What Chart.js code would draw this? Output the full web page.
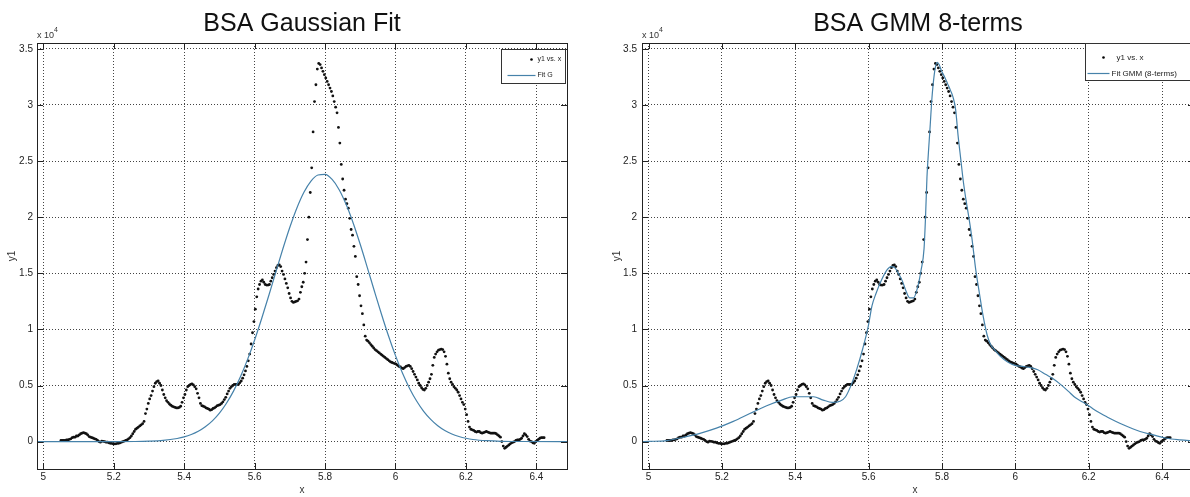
<!DOCTYPE html>
<html>
<head>
<meta charset="utf-8">
<title>BSA fits</title>
<script src="https://cdn.jsdelivr.net/npm/chart.js@4/dist/chart.umd.min.js"></script>
<style>
  html, body { margin: 0; padding: 0; background: #fff; }
  #wrap { position: relative; width: 1190px; height: 497px; overflow: hidden; background: #fff; }
  canvas { position: absolute; top: 0; }
  #left { left: 0; }
  #right { left: 600px; }
</style>
</head>
<body>
<div id="wrap">
  <canvas id="left" width="600" height="497"></canvas>
  <canvas id="right" width="600" height="497"></canvas>
</div>
<script>
/* ===========================================
   BSA spectrum - measured points and two fits
   (values are in units of 10^4)
   =========================================== */

// measured trace: one sample every 0.004 from x = 5.05
const X_START = 5.05;
const X_STEP = 0.004;
const y1 = [
  0.01, 0.01, 0.01, 0.01, 0.015, 0.015, 0.02, 0.025, 0.035, 0.04, 0.04, 0.05, 0.05, 0.06, 0.07, 0.075, 0.08, 0.075, 0.07, 0.06, 0.045, 0.04, 0.035, 0.03, 0.025,
  0.02, 0.01, 0.0, -0.005, 0.005, 0.003, 0.0, -0.005, -0.005, -0.01, -0.015, -0.015, -0.02, -0.02, -0.02, -0.015, -0.015, -0.01, -0.005, 0.0, 0.005, 0.01, 0.015, 0.025, 0.035,
  0.05, 0.07, 0.09, 0.11, 0.12, 0.13, 0.14, 0.15, 0.16, 0.18, 0.25, 0.29, 0.34, 0.38, 0.41, 0.45, 0.49, 0.52, 0.535, 0.54, 0.52, 0.50, 0.46, 0.42, 0.39,
  0.365, 0.35, 0.335, 0.325, 0.315, 0.31, 0.305, 0.30, 0.30, 0.305, 0.315, 0.35, 0.39, 0.42, 0.46, 0.49, 0.50, 0.51, 0.515, 0.505, 0.49, 0.47, 0.43, 0.39, 0.34,
  0.32, 0.315, 0.31, 0.30, 0.295, 0.29, 0.28, 0.285, 0.295, 0.30, 0.31, 0.32, 0.325, 0.33, 0.34, 0.355, 0.375, 0.395, 0.425, 0.45, 0.475, 0.49, 0.50, 0.51, 0.51,
  0.51, 0.51, 0.525, 0.54, 0.565, 0.595, 0.63, 0.67, 0.72, 0.78, 0.87, 0.97, 1.07, 1.18, 1.29, 1.36, 1.40, 1.43, 1.44, 1.42, 1.40, 1.395, 1.395, 1.40, 1.43,
  1.46, 1.49, 1.52, 1.55, 1.57, 1.575, 1.56, 1.52, 1.49, 1.45, 1.41, 1.37, 1.32, 1.28, 1.25, 1.24, 1.245, 1.25, 1.255, 1.27, 1.33, 1.38, 1.42, 1.50, 1.60,
  1.80, 2.00, 2.22, 2.44, 2.76, 3.03, 3.18, 3.32, 3.37, 3.36, 3.33, 3.30, 3.27, 3.24, 3.21, 3.18, 3.15, 3.12, 3.08, 3.03, 2.98, 2.93, 2.80, 2.66, 2.47,
  2.34, 2.24, 2.16, 2.12, 2.08, 1.99, 1.89, 1.84, 1.74, 1.65, 1.47, 1.40, 1.30, 1.21, 1.14, 1.04, 0.94, 0.905, 0.895, 0.88, 0.865, 0.85, 0.835, 0.82, 0.81,
  0.80, 0.79, 0.78, 0.77, 0.76, 0.75, 0.74, 0.73, 0.72, 0.71, 0.705, 0.70, 0.695, 0.69, 0.68, 0.67, 0.665, 0.655, 0.65, 0.66, 0.67, 0.675, 0.68, 0.67, 0.65,
  0.625, 0.60, 0.575, 0.55, 0.52, 0.50, 0.48, 0.465, 0.46, 0.475, 0.50, 0.53, 0.56, 0.60, 0.68, 0.75, 0.78, 0.80, 0.815, 0.82, 0.825, 0.82, 0.80, 0.76, 0.69,
  0.61, 0.56, 0.53, 0.51, 0.49, 0.475, 0.46, 0.44, 0.41, 0.38, 0.35, 0.33, 0.29, 0.24, 0.18, 0.13, 0.11, 0.105, 0.10, 0.09, 0.085, 0.09, 0.09, 0.08, 0.075,
  0.08, 0.085, 0.09, 0.085, 0.08, 0.075, 0.075, 0.075, 0.075, 0.07, 0.06, 0.05, 0.04, 0.0, -0.04, -0.06, -0.05, -0.04, -0.03, -0.02, -0.01, -0.005, 0.0, 0.01, 0.015,
  0.015, 0.02, 0.03, 0.05, 0.07, 0.06, 0.045, 0.02, 0.005, 0.0, -0.01, -0.015, 0.0, 0.01, 0.02, 0.03, 0.035, 0.035, 0.035
];

// single gaussian fit
const gaussX = [4.98, 5.10, 5.20, 5.26, 5.30, 5.34, 5.38, 5.40, 5.42, 5.44, 5.46, 5.48, 5.50, 5.52, 5.54, 5.56, 5.58, 5.60, 5.62, 5.64,
  5.66, 5.68, 5.70, 5.72, 5.74, 5.76, 5.78, 5.80, 5.82, 5.84, 5.86, 5.88, 5.90, 5.92, 5.94, 5.96, 5.98, 6.00, 6.02, 6.04,
  6.06, 6.08, 6.10, 6.12, 6.14, 6.16, 6.18, 6.20, 6.22, 6.26, 6.30, 6.36, 6.49];
const gaussY = [0, 0, 0, 0.001, 0.004, 0.011, 0.028, 0.042, 0.063, 0.092, 0.132, 0.185, 0.254, 0.342, 0.450, 0.580, 0.733, 0.906, 1.097, 1.300,
  1.509, 1.716, 1.910, 2.082, 2.222, 2.322, 2.376, 2.381, 2.336, 2.245, 2.112, 1.946, 1.756, 1.551, 1.342, 1.137, 0.943, 0.766, 0.609, 0.474,
  0.362, 0.270, 0.198, 0.141, 0.099, 0.068, 0.046, 0.030, 0.019, 0.008, 0.003, 0.001, 0];

// 8-term gaussian mixture fit
const gmmX = [4.982, 5.00, 5.05, 5.094, 5.14, 5.185, 5.231, 5.276, 5.322, 5.363, 5.394, 5.424, 5.45, 5.476, 5.501, 5.522, 5.537, 5.553, 5.568, 5.584,
  5.599, 5.609, 5.62, 5.635, 5.65, 5.661, 5.671, 5.681, 5.692, 5.702, 5.712, 5.722, 5.733, 5.743, 5.751, 5.755, 5.759, 5.763, 5.768, 5.772,
  5.776, 5.781, 5.787, 5.792, 5.799, 5.807, 5.815, 5.823, 5.830, 5.837, 5.844, 5.851, 5.858, 5.866, 5.874, 5.882, 5.892, 5.902, 5.912, 5.923,
  5.933, 5.943, 5.959, 5.979, 5.999, 6.02, 6.041, 6.061, 6.082, 6.103, 6.123, 6.144, 6.164, 6.185, 6.204, 6.222, 6.25, 6.294, 6.34, 6.376,
  6.412, 6.449, 6.487];
const gmmY = [0, 0.002, 0.009, 0.039, 0.074, 0.12, 0.18, 0.25, 0.32, 0.37, 0.40, 0.40, 0.40, 0.37, 0.35, 0.36, 0.40, 0.51, 0.65, 0.83,
  1.03, 1.21, 1.32, 1.44, 1.53, 1.56, 1.55, 1.50, 1.43, 1.34, 1.28, 1.28, 1.37, 1.53, 1.72, 2.00, 2.36, 2.58, 2.83, 3.04,
  3.19, 3.32, 3.38, 3.36, 3.30, 3.25, 3.19, 3.13, 3.07, 2.96, 2.72, 2.52, 2.32, 2.14, 1.98, 1.80, 1.53, 1.32, 1.12, 0.95,
  0.86, 0.82, 0.76, 0.71, 0.68, 0.67, 0.66, 0.64, 0.60, 0.56, 0.51, 0.45, 0.39, 0.35, 0.31, 0.27, 0.22, 0.15, 0.09, 0.06,
  0.03, 0.015, 0.005];

const xTicks = [5, 5.2, 5.4, 5.6, 5.8, 6, 6.2, 6.4];
const yTicks = [0, 0.5, 1, 1.5, 2, 2.5, 3, 3.5];
const xRange = [4.982, 6.487];
const yRange = [-0.244, 3.552];

const FIT_COLOR = '#4682aa';
const NARROW = "'Liberation Sans Narrow', 'Liberation Sans', Arial, sans-serif";
const SANS = "'Liberation Sans', Arial, sans-serif";

const points = y1.map((v, i) => ({ x: +(X_START + i * X_STEP).toFixed(3), y: v }));
const pairs = (xs, ys) => xs.map((x, i) => ({ x, y: ys[i] }));

// MATLAB-like decorations: box, inward ticks, title, labels, legend
const matlabDecor = {
  id: 'matlabDecor',
  afterDraw(chart, args, o) {
    const { ctx, chartArea: a, scales: { x, y } } = chart;
    ctx.save();
    ctx.setLineDash([]);
    ctx.strokeStyle = '#222';
    ctx.lineWidth = 1;

    ctx.beginPath();
    xTicks.forEach(v => {
      const px = Math.round(x.getPixelForValue(v)) + 0.5;
      ctx.moveTo(px, a.bottom); ctx.lineTo(px, a.bottom - 6);
      ctx.moveTo(px, a.top); ctx.lineTo(px, a.top + 6);
    });
    yTicks.forEach(v => {
      const py = Math.round(y.getPixelForValue(v)) + 0.5;
      ctx.moveTo(a.left, py); ctx.lineTo(a.left + 6, py);
      ctx.moveTo(a.right, py); ctx.lineTo(a.right - 6, py);
    });
    ctx.stroke();
    ctx.strokeRect(Math.round(a.left) + 0.5, Math.round(a.top) + 0.5, Math.round(a.width), Math.round(a.height));

    const cx = (a.left + a.right) / 2 + o.titleShift;
    ctx.fillStyle = '#111';
    ctx.textAlign = 'center';
    ctx.textBaseline = 'alphabetic';
    ctx.font = `25px ${SANS}`;
    ctx.fillText(o.title, cx, 31);

    // exponent label
    ctx.fillStyle = '#333';
    ctx.textAlign = 'left';
    ctx.font = `9px ${NARROW}`;
    ctx.fillText('x 10', a.left, 38);
    ctx.font = `7px ${NARROW}`;
    ctx.fillText('4', a.left + 17, 32);

    // axis labels
    ctx.font = `10px ${NARROW}`;
    ctx.textAlign = 'center';
    ctx.textBaseline = 'middle';
    ctx.fillText('x', (a.left + a.right) / 2 + o.xLabelShift, 490);
    ctx.save();
    ctx.translate(a.left - 25, (a.top + a.bottom) / 2);
    ctx.rotate(-Math.PI / 2);
    ctx.fillText('y1', 0, 0);
    ctx.restore();

    // legend
    const L = o.legend;
    const bx = Math.round(a.right - L.right - L.w) + 0.5;
    const by = Math.round(a.top + L.top) + 0.5;
    ctx.fillStyle = '#fff';
    ctx.fillRect(bx, by, L.w, L.h);
    ctx.strokeStyle = '#333';
    ctx.strokeRect(bx, by, L.w, L.h);
    ctx.fillStyle = '#000';
    ctx.beginPath();
    ctx.arc(bx + L.dotX, by + L.row1, 1.3, 0, Math.PI * 2);
    ctx.fill();
    ctx.strokeStyle = FIT_COLOR;
    ctx.lineWidth = 1.2;
    ctx.beginPath();
    ctx.moveTo(bx + L.line[0], by + L.row2);
    ctx.lineTo(bx + L.line[1], by + L.row2);
    ctx.stroke();
    ctx.fillStyle = '#222';
    ctx.textAlign = 'left';
    ctx.font = `${L.font}px ${NARROW}`;
    ctx.fillText('y1 vs. x', bx + L.text1, by + L.row1);
    ctx.fillText(o.fitLabel, bx + L.text2, by + L.row2);
    ctx.restore();
  }
};

function makeChart(id, opts) {
  const axisFont = { family: NARROW, size: 10 };
  return new Chart(document.getElementById(id), {
    type: 'scatter',
    data: {
      datasets: [
        {
          label: opts.fitLabel,
          data: pairs(opts.fitX, opts.fitY),
          showLine: true,
          borderColor: FIT_COLOR,
          borderWidth: 1.2,
          pointRadius: 0,
          cubicInterpolationMode: 'monotone'
        },
        {
          label: 'y1 vs. x',
          data: points,
          pointRadius: 1.4,
          pointBorderWidth: 0,
          backgroundColor: '#111',
          borderColor: '#111'
        }
      ]
    },
    options: {
      responsive: false,
      animation: false,
      devicePixelRatio: 1,
      layout: { padding: { top: 43, right: opts.padRight, left: 0, bottom: 0 } },
      plugins: {
        legend: { display: false },
        title: { display: false },
        tooltip: { enabled: false },
        matlabDecor: opts.decor
      },
      scales: {
        x: {
          type: 'linear',
          min: xRange[0],
          max: xRange[1],
          afterBuildTicks: s => { s.ticks = xTicks.map(v => ({ value: v })); },
          afterFit: s => { s.height = 28; },
          ticks: {
            autoSkip: false,
            maxRotation: 0,
            padding: 2,
            color: '#222',
            font: axisFont,
            callback: v => String(+v.toFixed(1))
          },
          grid: { color: '#444', lineWidth: 1, drawTicks: false },
          border: { display: false, dash: [1, 2] }
        },
        y: {
          type: 'linear',
          min: yRange[0],
          max: yRange[1],
          afterBuildTicks: s => { s.ticks = yTicks.map(v => ({ value: v })); },
          afterFit: s => { s.width = opts.yAxisWidth; },
          ticks: {
            autoSkip: false,
            padding: opts.yPad,
            color: '#222',
            font: axisFont,
            callback: v => String(+v.toFixed(1))
          },
          grid: { color: '#444', lineWidth: 1, drawTicks: false },
          border: { display: false, dash: [1, 2] }
        }
      }
    },
    plugins: [matlabDecor]
  });
}

makeChart('left', {
  fitLabel: 'Fit G',
  fitX: gaussX,
  fitY: gaussY,
  padRight: 33,
  yAxisWidth: 37,
  yPad: 4,
  decor: {
    title: 'BSA Gaussian Fit',
    fitLabel: 'Fit G',
    titleShift: 0,
    xLabelShift: 0,
    legend: { w: 64, h: 34, top: 6, right: 2, row1: 10, row2: 26, dotX: 30, line: [6, 34], text1: 36, text2: 36, font: 7 }
  }
});

makeChart('right', {
  fitLabel: 'Fit GMM (8-terms)',
  fitX: gmmX,
  fitY: gmmY,
  padRight: 6,
  yAxisWidth: 42,
  yPad: 5,
  decor: {
    title: 'BSA GMM 8-terms',
    fitLabel: 'Fit GMM (8-terms)',
    titleShift: 0,
    xLabelShift: -3,
    legend: { w: 108, h: 37, top: 0, right: 1, row1: 14, row2: 30, dotX: 18, line: [2, 24], text1: 31, text2: 26, font: 8 }
  }
});
</script>
</body>
</html>
